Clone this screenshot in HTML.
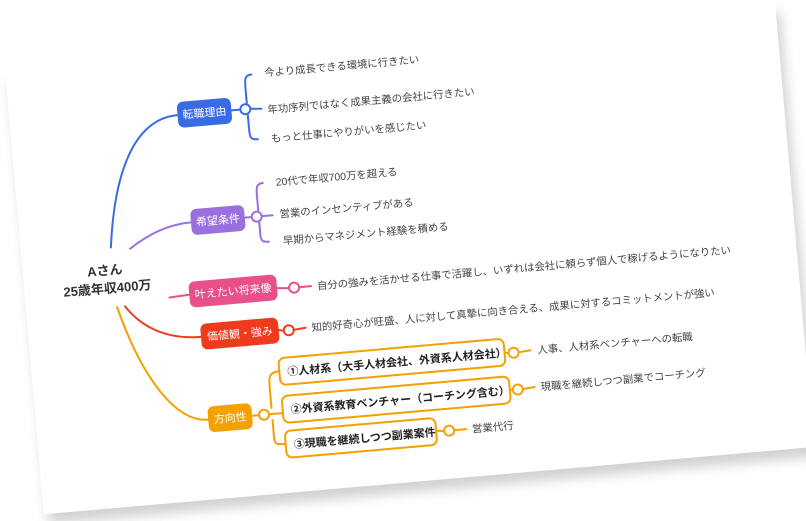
<!DOCTYPE html>
<html><head><meta charset="utf-8"><style>
html,body{margin:0;padding:0;background:#fff;width:806px;height:521px;overflow:hidden}
svg{display:block}
text{font-family:"Liberation Sans","Noto Sans CJK JP",sans-serif}
</style></head><body>
<svg width="806" height="521" viewBox="0 0 806 521">
<defs>
<filter id="sh" x="-10%" y="-10%" width="120%" height="130%"><feGaussianBlur stdDeviation="6"/></filter>
</defs>
<g transform="translate(5,70) rotate(-5)">
<rect x="4" y="10" width="773" height="446" fill="#000" opacity="0.18" filter="url(#sh)"/>
<rect x="0" y="0" width="773" height="446" fill="#fff"/>
<g fill="none" stroke-width="2" stroke-linecap="round">
<path d="M90,186 C100,110 125,60 168,60" stroke="#3a6be6"/>
<path d="M109,189 C130,175 150,168 172,168" stroke="#9a70de"/>
<path d="M144,241 L164,240" stroke="#e8508a"/>
<path d="M99,246 C115,270 140,283 174,283" stroke="#ee3b1e"/>
<path d="M91,246 C110,320 140,366 172,366" stroke="#f4a100"/>
<path d="M222,60 L231,60 M241,60 L252,61" stroke="#3a6be6"/>
<path d="M245,26 C238,26 238,30 238,40 L238,54 M238,66 L238,80 C238,88 238,91 246,91" stroke="#3a6be6"/>
<path d="M226,168 L233,168 M243,168 L254,168" stroke="#9a70de"/>
<path d="M247,135 C240,135 240,140 240,148 L240,162 M240,173 L240,186 C240,193 242,194 248,194" stroke="#9a70de"/>
<path d="M252,241 L264,242 M274,242 L286,242" stroke="#e8508a"/>
<path d="M250,283 L255,284 M265,284 L277,283" stroke="#ee3b1e"/>
<path d="M216,366 L223,366 M233,366 L247,366" stroke="#f4a100"/>
<path d="M247,324 C236,324 236,330 236,340 L236,360 M236,372 L236,390 C236,396 238,397 247,397" stroke="#f4a100"/>
<path d="M473,325 L477,326 M487,326 L499,325" stroke="#f4a100"/>
<path d="M475,362 L478,363 M488,363 L500,362" stroke="#f4a100"/>
<path d="M398,397 L406,398 M416,398 L428,398" stroke="#f4a100"/>
</g>
<g fill="#fff" stroke-width="2">
<circle cx="236" cy="60" r="5" stroke="#3a6be6"/>
<circle cx="238" cy="168" r="5" stroke="#9a70de"/>
<circle cx="269" cy="242" r="5" stroke="#e8508a"/>
<circle cx="260" cy="284" r="5" stroke="#ee3b1e"/>
<circle cx="228" cy="366" r="5" stroke="#f4a100"/>
<circle cx="482" cy="326" r="5" stroke="#f4a100"/>
<circle cx="483" cy="363" r="5" stroke="#f4a100"/>
<circle cx="411" cy="398" r="5" stroke="#f4a100"/>
</g>
<rect x="168" y="47" width="54" height="26" rx="6" fill="#3a6be6"/>
<rect x="172" y="155" width="54" height="26" rx="6" fill="#9a70de"/>
<rect x="164" y="227" width="88" height="26" rx="6" fill="#e8508a"/>
<rect x="172" y="270" width="78" height="26" rx="6" fill="#ee3b1e"/>
<rect x="172" y="353" width="44" height="26" rx="6" fill="#f4a100"/>
<g fill="#fff" stroke="#f4a100" stroke-width="2">
<rect x="247" y="311" width="226" height="27" rx="6"/>
<rect x="247" y="349" width="228" height="27" rx="6"/>
<rect x="247" y="384" width="151" height="27" rx="6"/>
</g>
<g fill="#fff" font-size="11" text-anchor="middle">
<text x="195" y="64">転職理由</text>
<text x="199" y="172">希望条件</text>
<text x="208" y="244">叶えたい将来像</text>
<text x="211" y="287">価値観・強み</text>
<text x="194" y="370">方向性</text>
</g>
<g fill="#222" font-size="11" font-weight="bold">
<text x="255" y="329">①人材系（大手人材会社、外資系人材会社）</text>
<text x="255" y="367">②外資系教育ベンチャー（コーチング含む）</text>
<text x="255" y="402">③現職を継続しつつ副業案件</text>
</g>
<g fill="#333" font-size="13" font-weight="bold" text-anchor="middle">
<text x="82" y="213">Aさん</text>
<text x="83" y="231">25歳年収400万</text>
</g>
<g fill="#444" font-size="10.4">
<text x="258" y="29">今より成長できる環境に行きたい</text>
<text x="258" y="66">年功序列ではなく成果主義の会社に行きたい</text>
<text x="259" y="95">もっと仕事にやりがいを感じたい</text>
<text x="260" y="139">20代で年収700万を超える</text>
<text x="261" y="171">営業のインセンティブがある</text>
<text x="262" y="198">早期からマネジメント経験を積める</text>
<text x="292" y="246">自分の強みを活かせる仕事で活躍し、いずれは会社に頼らず個人で稼げるようになりたい</text>
<text x="283" y="287">知的好奇心が旺盛、人に対して真摯に向き合える、成果に対するコミットメントが強い</text>
<text x="506" y="329">人事、人材系ベンチャーへの転職</text>
<text x="506" y="366">現職を継続しつつ副業でコーチング</text>
<text x="434" y="402">営業代行</text>
</g>
</g>
</svg>
</body></html>
